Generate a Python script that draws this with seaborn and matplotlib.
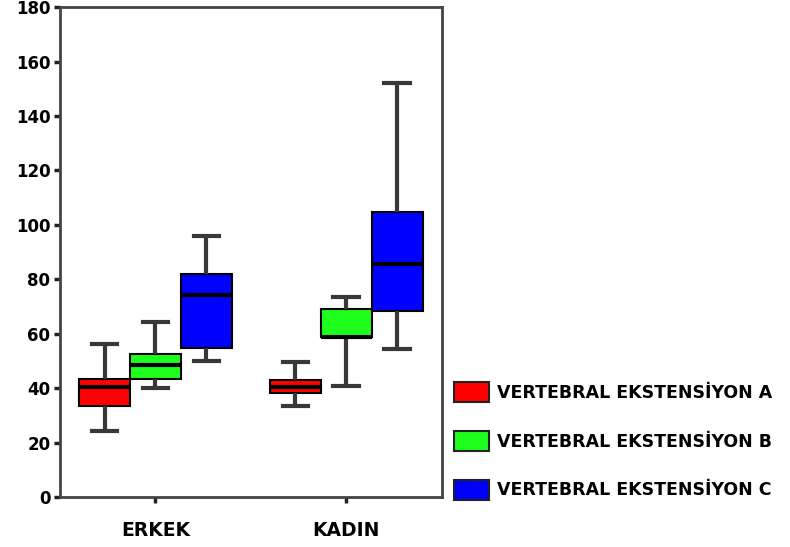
import numpy as np
import pandas as pd
import matplotlib
matplotlib.use("Agg")
import matplotlib.pyplot as plt
import seaborn as sns
from matplotlib.patches import Patch

# values: whisker low, Q1, median, Q3, whisker high
groups = ["ERKEK", "KADIN"]
series = ["VERTEBRAL EKSTENSİYON A", "VERTEBRAL EKSTENSİYON B", "VERTEBRAL EKSTENSİYON C"]
erkek_a = [24.4, 33.4, 40.5, 43.3, 56.2]
erkek_b = [40.0, 43.5, 48.4, 52.5, 64.3]
erkek_c = [50.1, 54.7, 74.1, 81.9, 96.1]
kadin_a = [33.4, 38.1, 40.5, 43.0, 49.8]
kadin_b = [40.8, 58.7, 58.7, 69.2, 73.6]
kadin_c = [54.5, 68.5, 85.8, 104.7, 152.2]
colors = ["#FF0000", "#1EFF1E", "#0000FF"]
y_ticks = [0, 20, 40, 60, 80, 100, 120, 140, 160, 180]

rows = []
for grp, vals_list in zip(groups, [[erkek_a, erkek_b, erkek_c], [kadin_a, kadin_b, kadin_c]]):
    for s, vals in zip(series, vals_list):
        for v in vals:
            rows.append({"grup": grp, "seri": s, "deger": v})
df = pd.DataFrame(rows)

plt.rcParams["font.family"] = ["DejaVu Sans"]
plt.rcParams["font.weight"] = "bold"

fig = plt.figure(figsize=(7.9, 5.47), dpi=100)
ax = fig.add_axes([0.076, 0.091, 0.483, 0.896])

sns.boxplot(
    data=df, x="grup", y="deger", hue="seri",
    order=groups, hue_order=series, palette=colors,
    width=0.8, gap=0, whis=(0, 100), saturation=1,
    linecolor="black", linewidth=1.5, legend=False,
    whiskerprops={"color": "#383838", "linewidth": 3},
    capprops={"color": "#383838", "linewidth": 3},
    medianprops={"color": "black", "linewidth": 3},
    ax=ax,
)

ax.set_xlim(-0.5, 1.5)
ax.set_ylim(0, 180)
ax.set_yticks(y_ticks)
ax.set_xlabel("")
ax.set_ylabel("")
for sp in ax.spines.values():
    sp.set_color("#444444")
    sp.set_linewidth(2)
ax.tick_params(axis="both", direction="out", length=4, width=2.5, color="#222222",
               labelsize=12)
ax.tick_params(axis="y", pad=3)
ax.tick_params(axis="x", pad=13, labelsize=13.5)
for lab in ax.get_xticklabels() + ax.get_yticklabels():
    lab.set_fontweight("bold")

handles = [Patch(facecolor=c, edgecolor="#222222", linewidth=1.5) for c in colors]
fig.legend(handles, series, loc="upper left", bbox_to_anchor=(0.555, 0.330),
           frameon=False, handlelength=2.0, handleheight=1.4, labelspacing=1.65,
           handletextpad=0.45, prop={"weight": "bold", "size": 12.5})

fig.savefig("out.png", dpi=100)
